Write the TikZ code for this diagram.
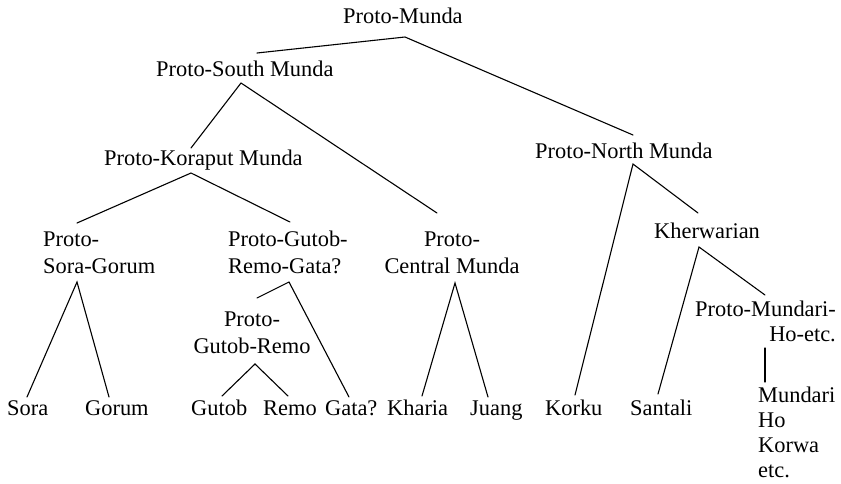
\documentclass[tikz,border=0pt]{standalone}
\usepackage{fontspec}
\setmainfont{Liberation Serif}
\begin{document}
\begin{tikzpicture}[x=1pt,y=-1pt,
  lbl/.style={inner sep=0pt, anchor=base west, font=\fontsize{22.4}{26.5}\selectfont},
  branch/.style={line width=1.1pt, line cap=round}]
\useasboundingbox (0,0) rectangle (841,483);
% labels
\node[lbl] (pm)  at (343,23.5) {Proto-Munda};
\node[lbl] (psm) at (156,76.5) {Proto-South Munda};
\node[lbl] (pkm) at (104,165) {Proto-Koraput Munda};
\node[lbl] (pnm) at (535,158) {Proto-North Munda};
\node[lbl] (kh)  at (654,238) {Kherwarian};
\node[lbl] (psg) at (43,246.5) {\begin{tabular}[t]{@{}l@{}}Proto-\\Sora-Gorum\end{tabular}};
\node[lbl] (pgrg) at (228,246.5) {\begin{tabular}[t]{@{}l@{}}Proto-Gutob-\\Remo-Gata?\end{tabular}};
\node[lbl, anchor=base] (pcm) at (452,246.5) {\begin{tabular}[t]{@{}c@{}}Proto-\\Central Munda\end{tabular}};
\node[lbl, anchor=base] (pgr) at (252,326.5) {\begin{tabular}[t]{@{}c@{}}Proto-\\Gutob-Remo\end{tabular}};
\node[lbl, anchor=base east, font=\fontsize{22.4}{25}\selectfont] (pmh) at (836,316) {\begin{tabular}[t]{@{}r@{}}Proto-Mundari-\\Ho-etc.\end{tabular}};
\node[lbl, font=\fontsize{22.4}{25}\selectfont] (mhk) at (758,402) {\begin{tabular}[t]{@{}l@{}}Mundari\\Ho\\Korwa\\etc.\end{tabular}};
\node[lbl] (sora)  at (7,415) {Sora};
\node[lbl] (gorum) at (85,415) {Gorum};
\node[lbl] (gutob) at (191,415) {Gutob};
\node[lbl] (remo)  at (263,415) {Remo};
\node[lbl] (gata)  at (325,415) {Gata?};
\node[lbl] (kharia) at (387,415) {Kharia};
\node[lbl] (juang) at (470,415) {Juang};
\node[lbl] (korku) at (545,415) {Korku};
\node[lbl] (santali) at (630,415) {Santali};
% connector end points
\coordinate (pm-b) at (405,37);
\coordinate (psm-t) at (257,53);
\coordinate (psm-b) at (241,83);
\coordinate (pnm-t) at (633,135);
\coordinate (pnm-b) at (633,164);
\coordinate (pkm-t) at (191,148);
\coordinate (pkm-b) at (191,173);
\coordinate (pcm-t) at (437,213);
\coordinate (pcm-b) at (455,283);
\coordinate (psg-t) at (77,223);
\coordinate (psg-b) at (77,282);
\coordinate (pgrg-t) at (290,222);
\coordinate (pgrg-b) at (289,282);
\coordinate (pgr-t) at (257,298);
\coordinate (pgr-b) at (255,364);
\coordinate (kh-t) at (698,213);
\coordinate (kh-b) at (699,247);
\coordinate (pmh-t) at (765,295);
\coordinate (pmh-b) at (765,348);
\coordinate (mhk-t) at (765,382);
\coordinate (sora-t) at (27,397);
\coordinate (gorum-t) at (109,397);
\coordinate (gutob-t) at (222,396);
\coordinate (remo-t) at (288,396);
\coordinate (gata-t) at (349,397);
\coordinate (kharia-t) at (422,396);
\coordinate (juang-t) at (488,397);
\coordinate (korku-t) at (575,395);
\coordinate (santali-t) at (658,394);
% connectors
\draw[branch] (psm-t) -- (pm-b) -- (pnm-t);
\draw[branch] (pkm-t) -- (psm-b) -- (pcm-t);
\draw[branch] (psg-t) -- (pkm-b) -- (pgrg-t);
\draw[branch] (korku-t) -- (pnm-b) -- (kh-t);
\draw[branch] (santali-t) -- (kh-b) -- (pmh-t);
\draw[branch] (pmh-b) -- (mhk-t);
\draw[branch] (sora-t) -- (psg-b) -- (gorum-t);
\draw[branch] (pgr-t) -- (pgrg-b) -- (gata-t);
\draw[branch] (gutob-t) -- (pgr-b) -- (remo-t);
\draw[branch] (kharia-t) -- (pcm-b) -- (juang-t);
\end{tikzpicture}
\end{document}
